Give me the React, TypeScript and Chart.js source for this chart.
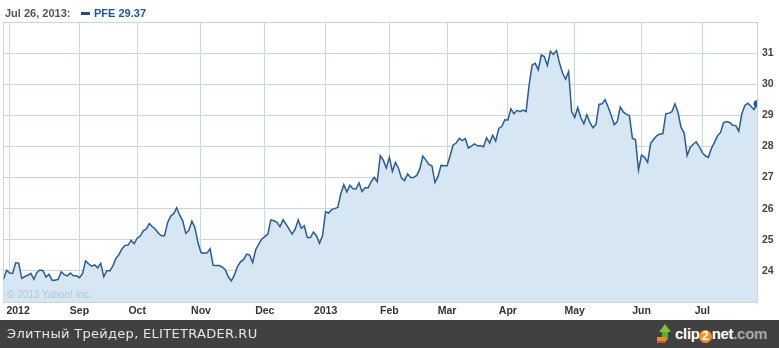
import React, { useEffect, useRef } from "react";
import { Chart, registerables } from "chart.js";

Chart.register(...registerables);

// Daily closing prices of PFE, Jul 30 2012 .. Jul 26 2013 (one per trading day)
const prices: number[] = [
  23.73, 24.02, 23.93, 23.92, 24.26, 24.25, 23.76, 23.82, 23.86, 23.92,
  23.73, 23.95, 24.03, 24.01, 23.80, 23.89, 23.70, 23.70, 23.73, 23.97,
  23.88, 23.84, 23.93, 23.84, 23.84, 23.78, 23.91, 24.32, 24.23, 24.15,
  24.19, 24.10, 24.24, 23.81, 24.01, 24.00, 24.16, 24.40, 24.52, 24.71,
  24.82, 24.83, 24.98, 24.87, 25.05, 25.12, 25.29, 25.35, 25.52, 25.42,
  25.34, 25.21, 25.13, 25.13, 25.55, 25.76, 25.84, 26.03, 25.79, 25.60,
  25.21, 25.30, 25.60, 25.39, 24.91, 24.59, 24.57, 24.58, 24.71, 24.18,
  24.17, 24.17, 24.12, 24.04, 23.81, 23.68, 23.87, 24.14, 24.29, 24.36,
  24.54, 24.51, 24.27, 24.68, 24.86, 25.02, 25.10, 25.18, 25.64, 25.61,
  25.56, 25.42, 25.64, 25.50, 25.34, 25.18, 25.34, 25.64, 25.37, 25.45,
  25.07, 25.07, 25.25, 25.13, 24.89, 25.13, 25.90, 25.86, 25.97, 26.00,
  26.04, 26.47, 26.77, 26.54, 26.75, 26.64, 26.63, 26.83, 26.55, 26.67,
  26.67, 26.86, 27.01, 26.87, 27.70, 27.56, 27.31, 27.65, 27.20, 27.49,
  27.30, 26.98, 26.90, 27.12, 27.00, 27.00, 27.07, 27.27, 27.69, 27.57,
  27.42, 27.38, 26.84, 27.03, 27.39, 27.38, 27.38, 27.70, 28.05, 28.11,
  28.26, 28.19, 28.25, 27.95, 28.01, 28.08, 28.02, 28.02, 27.99, 28.28,
  28.11, 28.36, 28.17, 28.58, 28.64, 28.86, 28.85, 29.21, 29.05, 29.16,
  29.12, 29.17, 29.12, 29.98, 30.62, 30.67, 30.46, 30.94, 30.89, 30.60,
  31.05, 30.96, 31.08, 30.68, 30.36, 30.16, 30.41, 29.12, 28.93, 29.25,
  28.93, 28.73, 29.02, 28.77, 28.60, 28.71, 29.35, 29.37, 29.51, 29.27,
  29.00, 28.70, 28.79, 29.27, 29.11, 29.03, 28.99, 28.26, 28.22, 27.24,
  27.72, 27.65, 27.49, 28.10, 28.23, 28.34, 28.40, 28.41, 29.05, 29.07,
  29.12, 29.37, 29.09, 28.61, 28.44, 27.71, 27.97, 28.07, 28.15, 27.99,
  27.80, 27.70, 27.65, 27.94, 28.13, 28.34, 28.45, 28.77, 28.80, 28.77,
  28.68, 28.67, 28.49, 29.05, 29.32, 29.39, 29.29, 29.19, 29.37,
];

// Trading-day index of each month start (plus the left/right edges)
const monthTickIdx: number[] = [0, 2, 25, 44, 65, 86, 106, 127, 146, 166, 188, 210, 230, 248];
const monthTickLabels: string[] = [" 2012", "", "Sep", "Oct", "Nov", "Dec", "2013", "Feb", "Mar", "Apr", "May", "Jun", "Jul", ""];

const yMin = 23;
const yMax = 32;

const headerDate = "Jul 26, 2013:";
const seriesName = "PFE";
const lastPrice = "29.37";
const watermark = "\u00a9 2013 Yahoo! Inc.";
const bannerText = "Элитный Трейдер, ELITETRADER.RU";

const LINE = "#2a5c93";
const FILL = "#d6e6f2";
const GRID = "#c9d7e2";
const LABEL_FONT = "'Liberation Sans', Arial, sans-serif";

export default function App() {
  const canvasRef = useRef<HTMLCanvasElement>(null);

  useEffect(() => {
    const canvas = canvasRef.current;
    if (!canvas) return;
    const last = prices.length - 1;
    const chart = new Chart(canvas, {
      type: "line",
      data: {
        datasets: [
          {
            label: seriesName,
            data: prices.map((v, i) => ({ x: i, y: v })),
            borderColor: LINE,
            borderWidth: 1.5,
            backgroundColor: FILL,
            fill: "start",
            tension: 0,
            pointRadius: (c: any) => (c.dataIndex === last ? 3.5 : 0),
            pointBackgroundColor: LINE,
            pointBorderWidth: 0,
            pointHoverRadius: 0,
          },
        ],
      },
      options: {
        responsive: false,
        animation: false,
        events: [],
        layout: { padding: { left: 2, top: 22, right: 0, bottom: 0 } },
        plugins: { legend: { display: false }, tooltip: { enabled: false } },
        scales: {
          x: {
            type: "linear",
            min: 0,
            max: last,
            afterBuildTicks: (axis: any) => {
              axis.ticks = monthTickIdx.map((v) => ({ value: v }));
            },
            afterFit: (s: any) => {
              s.height = 18;
              s.paddingLeft = 0;
              s.paddingRight = 0;
            },
            ticks: {
              autoSkip: false,
              maxRotation: 0,
              minRotation: 0,
              align: "inner",
              padding: 3,
              color: "#333333",
              font: { family: LABEL_FONT, size: 10.5, weight: "bold" },
              callback: (_v: any, i: number) => monthTickLabels[i] ?? "",
            },
            grid: { color: GRID, drawTicks: false, lineWidth: 1 },
            border: { color: GRID },
          },
          y: {
            position: "right",
            min: yMin,
            max: yMax,
            afterFit: (s: any) => {
              s.width = 22;
            },
            ticks: {
              stepSize: 1,
              padding: 5,
              color: "#444444",
              font: { family: LABEL_FONT, size: 10.5, weight: "bold" },
              callback: (v: any) => (v === yMin || v === yMax ? "" : String(v)),
            },
            grid: { color: GRID, drawTicks: false, lineWidth: 1 },
            border: { color: GRID },
          },
        },
      },
    } as any);
    return () => chart.destroy();
  }, []);

  return (
    <div
      style={{
        position: "absolute",
        left: 0,
        top: 0,
        width: 779,
        height: 348,
        background: "#ffffff",
        overflow: "hidden",
        fontFamily: LABEL_FONT,
      }}
    >
      <canvas ref={canvasRef} width={779} height={320} style={{ position: "absolute", left: 0, top: 0, width: 779, height: 320 }} />
      <div style={{ position: "absolute", left: 5, top: 7, fontSize: 11, lineHeight: "13px", fontWeight: "bold", color: "#555555", whiteSpace: "nowrap" }}>
        {headerDate}
      </div>
      <div style={{ position: "absolute", left: 81, top: 12, width: 9, height: 3, background: "#1f4e8c" }} />
      <div style={{ position: "absolute", left: 94, top: 7, fontSize: 11, lineHeight: "13px", fontWeight: "bold", color: "#1f5596", whiteSpace: "nowrap" }}>
        {seriesName} {lastPrice}
      </div>
      <div style={{ position: "absolute", left: 7, top: 289, fontSize: 10, lineHeight: "12px", color: "#b5c6d4", whiteSpace: "nowrap" }}>
        {watermark}
      </div>
      <div style={{ position: "absolute", left: 0, top: 320, width: 779, height: 28, background: "#414141" }}>
        <div style={{ position: "absolute", left: 7, top: 6, fontFamily: "'DejaVu Sans', Verdana, sans-serif", fontSize: 13, lineHeight: "15px", letterSpacing: "0.3px", color: "#e6e6e6", whiteSpace: "nowrap" }}>
          {bannerText}
        </div>
        {/* clip2net logo */}
        <div style={{ position: "absolute", left: 657, top: 4, width: 16, height: 20 }}>
          <div style={{ position: "absolute", left: 2, top: 0, width: 0, height: 0, borderLeft: "6px solid transparent", borderRight: "6px solid transparent", borderBottom: "8px solid #7cc242" }} />
          <div style={{ position: "absolute", left: 5, top: 8, width: 6, height: 8, background: "#5fae2e" }} />
          <div style={{ position: "absolute", left: 0, top: 13, width: 9, height: 6, background: "#f08a1c" }} />
          <div style={{ position: "absolute", left: 0, top: 17, width: 9, height: 2, background: "#e0452a" }} />
        </div>
        <div style={{ position: "absolute", left: 675, top: 4, height: 20, fontFamily: LABEL_FONT, fontSize: 15, lineHeight: "20px", fontWeight: "bold", whiteSpace: "nowrap", letterSpacing: "-0.3px" }}>
          <span style={{ color: "#ffffff" }}>clip</span>
          <span style={{ display: "inline-block", width: 13, height: 13, borderRadius: 7, background: "#f5901e", color: "#ffffff", textAlign: "center", lineHeight: "13px", fontSize: 12, verticalAlign: "-1px", margin: "0 0 0 -1px" }}>2</span>
          <span style={{ color: "#ffffff" }}>net</span>
          <span style={{ color: "#a8a8a8" }}>.com</span>
        </div>
      </div>
    </div>
  );
}
